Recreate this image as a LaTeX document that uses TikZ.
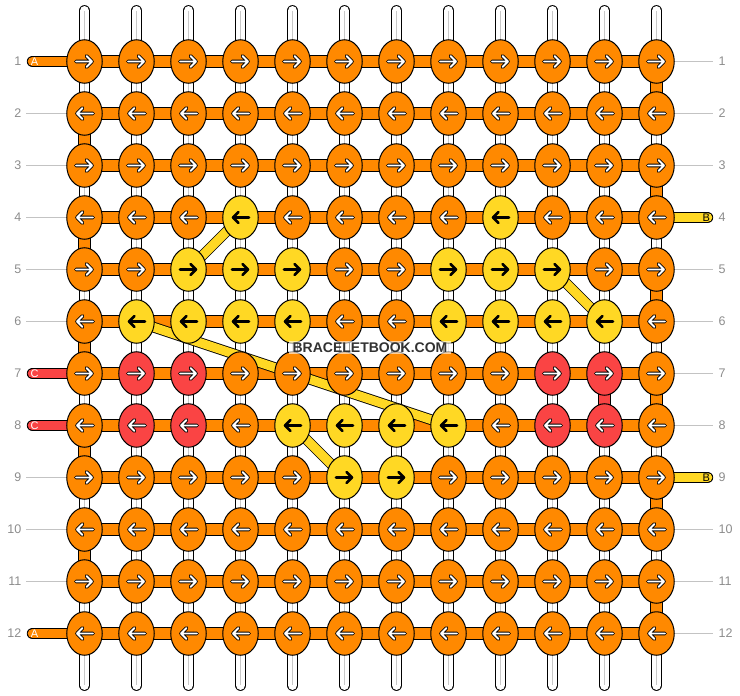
\documentclass[tikz,border=0pt]{standalone}
\usepackage{fontspec}
\setmainfont{Liberation Sans}
\usetikzlibrary{shapes.geometric}
\definecolor{org}{RGB}{255,137,0}
\definecolor{yel}{RGB}{255,216,36}
\definecolor{rd}{RGB}{250,68,68}
\definecolor{numgray}{RGB}{140,140,140}
\definecolor{linegray}{RGB}{195,195,195}
\definecolor{strgray}{RGB}{200,200,200}
\definecolor{wmgray}{RGB}{50,50,50}
\pgfdeclarelayer{strings}
\pgfdeclarelayer{bars}
\pgfdeclarelayer{bands}
\pgfdeclarelayer{top}
\pgfsetlayers{strings,bars,bands,main,top}
\def\setk#1#2#3{\expandafter\def\csname kc-#1-#2\endcsname{#3}}
% yellow knots
\setk{4}{4}{yel}\setk{4}{9}{yel}
\setk{5}{3}{yel}\setk{5}{4}{yel}\setk{5}{5}{yel}\setk{5}{8}{yel}\setk{5}{9}{yel}\setk{5}{10}{yel}
\setk{6}{2}{yel}\setk{6}{3}{yel}\setk{6}{4}{yel}\setk{6}{5}{yel}\setk{6}{8}{yel}\setk{6}{9}{yel}\setk{6}{10}{yel}\setk{6}{11}{yel}
\setk{8}{5}{yel}\setk{8}{6}{yel}\setk{8}{7}{yel}\setk{8}{8}{yel}
\setk{9}{6}{yel}\setk{9}{7}{yel}
% red knots
\setk{7}{2}{rd}\setk{7}{3}{rd}\setk{7}{10}{rd}\setk{7}{11}{rd}
\setk{8}{2}{rd}\setk{8}{3}{rd}\setk{8}{10}{rd}\setk{8}{11}{rd}
\def\yelname{yel}
\begin{document}
\begin{tikzpicture}[x=1pt,y=-1pt,
  knot/.style={ellipse, draw=black, line width=1pt, minimum width=35.5pt, minimum height=43.5pt, inner sep=0pt},
  kstring/.style={draw=black, line width=0.9pt, double=white, double distance=9.6pt, line cap=round},
  kbar/.style={draw=black, line width=0.9pt, double=#1, double distance=10.6pt},
  kband/.style={draw=black, line width=0.8pt, double=yel, double distance=9pt},
  kstub/.style={draw=black, line width=0.9pt, double=#1, double distance=9.8pt, line cap=round},
  guide/.style={draw=linegray, line width=0.8pt},
  rownum/.style={text=numgray, font=\fontsize{12.5}{12.5}\selectfont, inner sep=0pt},
  stublabel/.style={font=\fontsize{11}{11}\selectfont, inner sep=0pt},
  arrowout/.style={draw=black, line width=3.6pt, line cap=round, line join=round},
  arrowin/.style={draw=white, line width=1.8pt, line cap=round, line join=round},
  arrowdark/.style={draw=black, line width=2.6pt, line cap=round, line join=round},
  ]
\useasboundingbox (0,0) rectangle (740,696);
% knots
\foreach \ri in {1,...,12}{
  \foreach \ci in {1,...,12}{
    \pgfmathsetmacro\kx{84.5+52*(\ci-1)}
    \pgfmathsetmacro\ky{61.5+52*(\ri-1)}
    \pgfmathtruncatemacro\kdir{1-2*mod(\ri+1,2)}
    \ifcsname kc-\ri-\ci\endcsname
      \edef\kcol{\csname kc-\ri-\ci\endcsname}%
    \else
      \def\kcol{org}%
    \fi
    \node[knot, fill=\kcol] (n-\ri-\ci) at (\kx,\ky) {};
    \ifx\kcol\yelname
      \draw[arrowdark, shift={(\kx,\ky)}, xscale=\kdir] (-8.5,0) -- (7.5,0) (2,-5.5) -- (7.5,0) -- (2,5.5);
    \else
      \draw[arrowout, shift={(\kx,\ky)}, xscale=\kdir] (-8.5,0) -- (7.5,0) (2,-5.5) -- (7.5,0) -- (2,5.5);
      \draw[arrowin, shift={(\kx,\ky)}, xscale=\kdir] (-8.5,0) -- (7.5,0) (2,-5.5) -- (7.5,0) -- (2,5.5);
    \fi
  }
}
% vertical strings
\begin{pgfonlayer}{strings}
\foreach \ci in {1,...,12}{
  \pgfmathsetmacro\kx{84.5+52*(\ci-1)}
  \coordinate (t-\ci) at (\kx,10.8);
  \coordinate (b-\ci) at (\kx,685.2);
  \path[kstring] (t-\ci) -- (b-\ci);
  \draw[strgray, line width=1.3pt] (t-\ci) -- (b-\ci);
}
\end{pgfonlayer}
% bars, weft turns, stubs, guides
\begin{pgfonlayer}{bars}
\foreach \ri in {1,...,12}{
  \foreach \ci [evaluate=\ci as \cn using int(\ci+1)] in {1,...,11}{
    \path[kbar=org] (n-\ri-\ci.center) -- (n-\ri-\cn.center);
  }
}
\foreach \ri [evaluate=\ri as \rn using int(\ri+1)] in {1,3,5,7,9,11}{
  \path[kbar=org] (n-\ri-12.center) -- (n-\rn-12.center);
}
\foreach \ri [evaluate=\ri as \rn using int(\ri+1)] in {2,4,6,8,10}{
  \path[kbar=org] (n-\ri-1.center) -- (n-\rn-1.center);
}
\path[kbar=rd] (n-7-11.center) -- (n-8-11.center);
% row numbers and guides
\foreach \ri in {1,...,12}{
  \pgfmathsetmacro\ky{61.5+52*(\ri-1)}
  \node[rownum, anchor=east] (ln-\ri) at (21.5,\ky) {\ri};
  \node[rownum, anchor=west] (rn-\ri) at (718.5,\ky) {\ri};
  \coordinate (sl-\ri) at (32.6,\ky);
  \coordinate (sr-\ri) at (707.4,\ky);
  \coordinate (gl-\ri) at (26,\ky);
  \coordinate (gr-\ri) at (713,\ky);
}
\foreach \ri in {2,3,4,5,6,9,10,11}{
  \draw[guide] (gl-\ri) -- (n-\ri-1.west);
}
\foreach \ri in {1,2,3,5,6,7,8,10,11,12}{
  \draw[guide] (n-\ri-12.east) -- (gr-\ri);
}
\path[kstub=org] (sl-1) -- (n-1-1.center);
\path[kstub=rd] (sl-7) -- (n-7-1.center);
\path[kstub=rd] (sl-8) -- (n-8-1.center);
\path[kstub=org] (sl-12) -- (n-12-1.center);
\path[kstub=yel] (n-4-12.center) -- (sr-4);
\path[kstub=yel] (n-9-12.center) -- (sr-9);
\node[stublabel, text=white] (la-1) at (34.5,61.5) {A};
\node[stublabel, text=white] (lc-7) at (34.5,373.5) {C};
\node[stublabel, text=white] (lc-8) at (34.5,425.5) {C};
\node[stublabel, text=white] (la-12) at (34.5,633.5) {A};
\node[stublabel, text=black] (lb-4) at (706.3,217.5) {B};
\node[stublabel, text=black] (lb-9) at (706.3,477.5) {B};
\end{pgfonlayer}
% yellow carried strands
\begin{pgfonlayer}{bands}
\path[kband] (n-4-4.center) -- (n-5-3.center);
\path[kband] (n-5-10.center) -- (n-6-11.center);
\path[kband] (n-6-2.center) -- (n-8-8.center);
\path[kband] (n-8-5.center) -- (n-9-6.center);
\end{pgfonlayer}
% watermark
\begin{pgfonlayer}{top}
\node[fill=white, fill opacity=0.6, text opacity=1, text=wmgray,
      font=\bfseries\fontsize{14}{14}\selectfont, inner xsep=4pt, inner ysep=1.5pt] (wm) at (370,347.5) {BRACELETBOOK.COM};
\end{pgfonlayer}
\end{tikzpicture}
\end{document}
